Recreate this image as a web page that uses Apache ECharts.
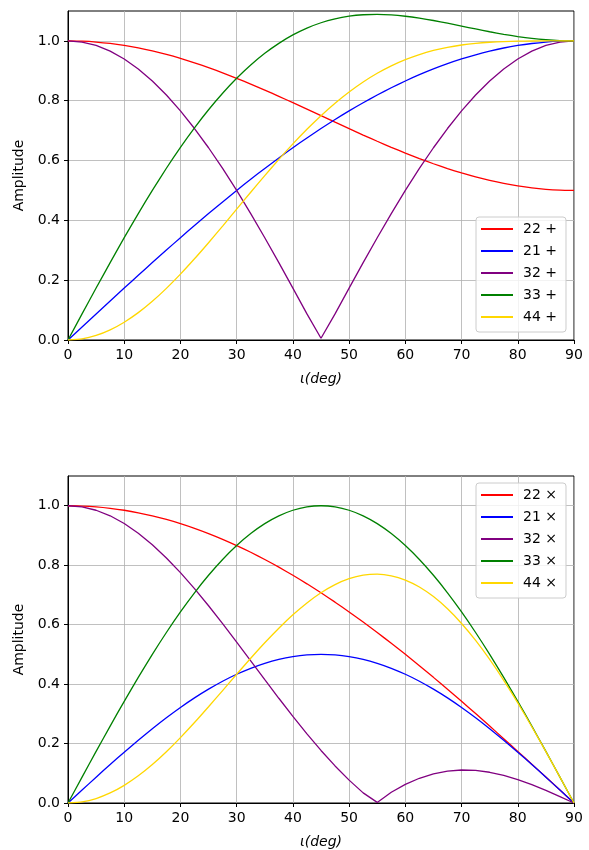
<!DOCTYPE html>
<html>
<head>
<meta charset="utf-8">
<script src="https://cdn.jsdelivr.net/npm/echarts@6/dist/echarts.min.js"></script>
<style>html,body{margin:0;padding:0;background:#fff}#c{width:589px;height:850px}</style>
</head>
<body>
<div id="c"></div>
<script>
const iota = [0,2.5,5,7.5,10,12.5,15,17.5,20,22.5,25,27.5,30,32.5,35,37.5,40,42.5,45,47.5,50,52.5,55,57.5,60,62.5,65,67.5,70,72.5,75,77.5,80,82.5,85,87.5,90];

const xTicks = [0,10,20,30,40,50,60,70,80,90];
const yTicks = [0,0.2,0.4,0.6,0.8,1.0];

const plusNames = ['22 +','21 +','32 +','33 +','44 +'];
const crossNames = ['22 \u00d7','21 \u00d7','32 \u00d7','33 \u00d7','44 \u00d7'];
const colors = ['#ff0000','#0000ff','#800080','#008000','#ffd700'];

const p22 = [1,0.9990,0.9962,0.9915,0.9849,0.9766,0.9665,0.9548,0.9415,0.9268,0.9107,0.8934,0.875,0.8557,0.8355,0.8147,0.7934,0.7718,0.75,0.7282,0.7066,0.6853,0.6645,0.6443,0.625,0.6066,0.5893,0.5732,0.5585,0.5452,0.5335,0.5234,0.5151,0.5085,0.5038,0.5010,0.5];
const p21 = [0,0.0436,0.0872,0.1305,0.1736,0.2164,0.2588,0.3007,0.3420,0.3827,0.4226,0.4617,0.5,0.5373,0.5736,0.6088,0.6428,0.6756,0.7071,0.7373,0.7660,0.7934,0.8192,0.8434,0.8660,0.8870,0.9063,0.9239,0.9397,0.9537,0.9659,0.9763,0.9848,0.9914,0.9962,0.9990,1];
const p32 = [1,0.9962,0.9848,0.9659,0.9397,0.9063,0.8660,0.8192,0.7660,0.7071,0.6428,0.5736,0.5,0.4226,0.3420,0.2588,0.1736,0.0872,0.006,0.0872,0.1736,0.2588,0.3420,0.4226,0.5,0.5736,0.6428,0.7071,0.7660,0.8192,0.8660,0.9063,0.9397,0.9659,0.9848,0.9962,1];
const p33 = [0,0.0872,0.1737,0.2588,0.3421,0.4227,0.5003,0.5742,0.6440,0.7093,0.7698,0.8251,0.875,0.9195,0.9585,0.9919,1.0200,1.0428,1.0607,1.0738,1.0826,1.0874,1.0886,1.0869,1.0825,1.0761,1.0682,1.0592,1.0496,1.0400,1.0306,1.0220,1.0145,1.0083,1.0038,1.0010,1];
const p44 = [0,0.0038,0.0151,0.0338,0.0594,0.0915,0.1295,0.1727,0.2203,0.2715,0.3253,0.3810,0.4375,0.4940,0.5497,0.6039,0.6556,0.7045,0.75,0.7917,0.8293,0.8627,0.8918,0.9167,0.9375,0.9545,0.9681,0.9786,0.9863,0.9918,0.9955,0.9978,0.9991,0.9997,0.9999,1.0,1];

const c22 = [1,0.9990,0.9962,0.9914,0.9848,0.9763,0.9659,0.9537,0.9397,0.9239,0.9063,0.8870,0.8660,0.8434,0.8192,0.7934,0.7660,0.7373,0.7071,0.6756,0.6428,0.6088,0.5736,0.5373,0.5,0.4617,0.4226,0.3827,0.3420,0.3007,0.2588,0.2164,0.1736,0.1305,0.0872,0.0436,0];
const c21 = [0,0.0436,0.0868,0.1294,0.1710,0.2113,0.25,0.2868,0.3214,0.3536,0.3830,0.4096,0.4330,0.4532,0.4698,0.4830,0.4924,0.4981,0.5,0.4981,0.4924,0.4830,0.4698,0.4532,0.4330,0.4096,0.3830,0.3536,0.3214,0.2868,0.25,0.2113,0.1710,0.1294,0.0868,0.0436,0];
const c32 = [1,0.9962,0.9848,0.9661,0.9402,0.9077,0.8689,0.8244,0.7748,0.7209,0.6635,0.6033,0.5413,0.4782,0.4149,0.3523,0.2913,0.2325,0.1768,0.1247,0.0770,0.0340,0.002,0.0360,0.0625,0.0832,0.0981,0.1073,0.1110,0.1096,0.1034,0.0930,0.0790,0.0619,0.0426,0.0217,0];
const c33 = [0,0.0872,0.1736,0.2588,0.3420,0.4226,0.5,0.5736,0.6428,0.7071,0.7660,0.8192,0.8660,0.9063,0.9397,0.9659,0.9848,0.9962,1,0.9962,0.9848,0.9659,0.9397,0.9063,0.8660,0.8192,0.7660,0.7071,0.6428,0.5736,0.5,0.4226,0.3420,0.2588,0.1736,0.0872,0];
const c44 = [0,0.0038,0.0151,0.0338,0.0594,0.0915,0.1294,0.1725,0.2199,0.2706,0.3238,0.3782,0.4330,0.4870,0.5390,0.5880,0.6330,0.6730,0.7071,0.7345,0.7544,0.7663,0.7698,0.7644,0.75,0.7266,0.6943,0.6533,0.6040,0.5470,0.4830,0.4126,0.3368,0.2566,0.1730,0.0871,0];

const plusData = [p22,p21,p32,p33,p44];
const crossData = [c22,c21,c32,c33,c44];

const FONT = 'DejaVu Sans';
const FS = 14;
const chart = echarts.init(document.getElementById('c'), null, {renderer:'canvas'});

function xAxis(gi){
  return {
    type:'value', gridIndex:gi, min:0, max:90, interval:10,
    name:'\u03b9(deg)', nameLocation:'middle', nameGap:32,
    nameTextStyle:{fontFamily:FONT, fontSize:FS, color:'#000', fontStyle:'italic'},
    axisLine:{show:true, onZero:false, lineStyle:{color:'#000', width:1}},
    axisTick:{show:true, inside:false, length:4, lineStyle:{color:'#000'}},
    axisLabel:{fontFamily:FONT, fontSize:FS, color:'#000', margin:8, showMinLabel:true, showMaxLabel:true},
    splitLine:{show:true, lineStyle:{color:'#b0b0b0', width:0.8}}
  };
}
function yAxis(gi){
  return {
    type:'value', gridIndex:gi, min:0, max:1.1, interval:0.2,
    name:'Amplitude', nameLocation:'middle', nameGap:41,
    nameTextStyle:{fontFamily:FONT, fontSize:FS, color:'#000'},
    axisLine:{show:true, onZero:false, lineStyle:{color:'#000', width:1}},
    axisTick:{show:true, inside:false, length:4, lineStyle:{color:'#000'}, customValues:yTicks},
    axisLabel:{fontFamily:FONT, fontSize:FS, color:'#000', margin:8, customValues:yTicks,
      formatter:function(v){return v > 1.05 ? '' : Number(v).toFixed(1);}},
    splitLine:{show:true, lineStyle:{color:'#b0b0b0', width:0.8}}
  };
}
function legend(names, top){
  return {
    data:names, orient:'vertical', left:476, top:top,
    padding:[4,9,7,5], itemGap:6, itemWidth:32, itemHeight:2, icon:'rect',
    backgroundColor:'rgba(255,255,255,0.8)', borderColor:'#cccccc', borderWidth:1, borderRadius:3,
    textStyle:{fontFamily:FONT, fontSize:FS, color:'#000', lineHeight:16, padding:[0,0,0,5]},
    selectedMode:false
  };
}
const series = [];
plusNames.forEach((n,i)=>{
  series.push({type:'line', name:n, xAxisIndex:0, yAxisIndex:0, showSymbol:false, smooth:(i===2?false:0.2),
    color:colors[i], lineStyle:{width:1.3, color:colors[i]}, animation:false,
    data:iota.map((x,k)=>[x, plusData[i][k]])});
});
crossNames.forEach((n,i)=>{
  series.push({type:'line', name:n, xAxisIndex:1, yAxisIndex:1, showSymbol:false, smooth:(i===2?false:0.2),
    color:colors[i], lineStyle:{width:1.3, color:colors[i]}, animation:false,
    data:iota.map((x,k)=>[x, crossData[i][k]])});
});

chart.setOption({
  animation:false,
  backgroundColor:'#fff',
  grid:[
    {left:68, right:15, top:11, height:329, show:true, borderColor:'#000', borderWidth:1, backgroundColor:'transparent'},
    {left:68, right:15, top:476, height:328, show:true, borderColor:'#000', borderWidth:1, backgroundColor:'transparent'}
  ],
  xAxis:[xAxis(0), xAxis(1)],
  yAxis:[yAxis(0), yAxis(1)],
  legend:[legend(plusNames, 217), legend(crossNames, 483)],
  series:series
});
</script>
</body>
</html>
